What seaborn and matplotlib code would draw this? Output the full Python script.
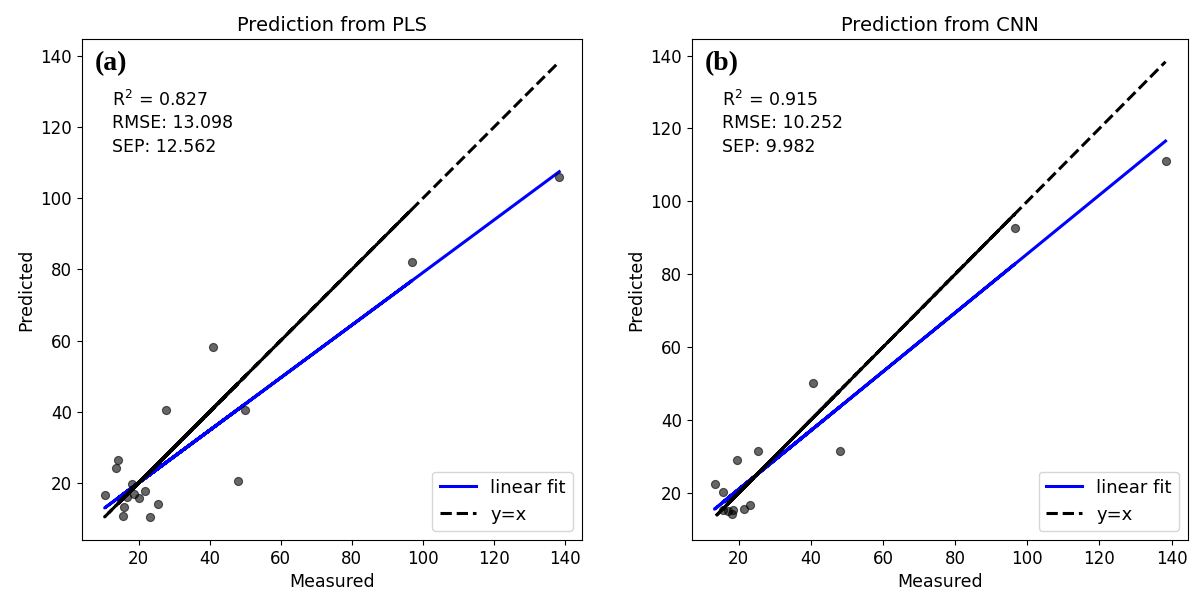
import matplotlib
matplotlib.use("Agg")
import matplotlib.pyplot as plt
import numpy as np
import seaborn as sns

# PLS panel, points kept in their original (unsorted) order
pls_measured = [15.6, 27.8, 18.7, 50.0, 14.2, 40.8, 20.1, 96.9, 13.7, 48.0,
                16.8, 23.2, 10.4, 21.8, 18.2, 25.5, 15.9, 138.4]
pls_predicted = [10.7, 40.6, 16.7, 40.6, 26.4, 58.2, 15.8, 82.0, 24.2, 20.6,
                 16.1, 10.3, 16.5, 17.7, 19.7, 14.0, 13.2, 106.0]

# CNN panel
cnn_measured = [18.2, 40.6, 15.7, 25.3, 13.3, 96.5, 21.6, 48.1, 15.6, 23.2,
                19.6, 17.0, 18.5, 138.3]
cnn_predicted = [14.1, 50.2, 15.2, 31.4, 22.5, 92.6, 15.5, 31.4, 20.3, 16.6,
                 28.9, 15.0, 15.4, 111.1]

titles = ["Prediction from PLS", "Prediction from CNN"]
panel_tags = ["(a)", "(b)"]
stats_text = [
    ["R$^2$ = 0.827", "RMSE: 13.098", "SEP: 12.562"],
    ["R$^2$ = 0.915", "RMSE: 10.252", "SEP: 9.982"],
]


def draw_panel(ax, measured, predicted, title, tag, stats):
    x = np.array(measured)
    y = np.array(predicted)
    slope, intercept = np.polyfit(x, y, 1)

    sns.lineplot(x=x, y=slope * x + intercept, sort=False, estimator=None,
                 color="blue", linewidth=2.2, label="linear fit", ax=ax)
    sns.lineplot(x=x, y=x, sort=False, estimator=None, color="black",
                 linewidth=2.2, linestyle="--", label="y=x", ax=ax)
    sns.scatterplot(x=x, y=y, color="black", alpha=0.6, s=34,
                    edgecolor="black", linewidth=0.8, ax=ax, zorder=3)

    ax.set_title(title, fontsize=14)
    ax.set_xlabel("Measured", fontsize=12.5)
    ax.set_ylabel("Predicted", fontsize=12.5)
    ax.tick_params(labelsize=12)
    ax.set_xticks([20, 40, 60, 80, 100, 120, 140])
    ax.set_yticks([20, 40, 60, 80, 100, 120, 140])

    ax.text(0.026, 0.95, tag, transform=ax.transAxes, fontsize=20,
            fontweight="bold", family="Liberation Serif", va="center", ha="left")
    for i, line in enumerate(stats):
        ax.text(0.06, 0.878 - i * 0.0465, line, transform=ax.transAxes,
                fontsize=12.5, va="center", ha="left")

    ax.legend(loc="lower right", fontsize=13)


fig = plt.figure(figsize=(11.98, 5.95), dpi=100)
ax_a = fig.add_axes([0.0684, 0.0924, 0.4174, 0.8421])
ax_b = fig.add_axes([0.5776, 0.0924, 0.4141, 0.8421])

draw_panel(ax_a, pls_measured, pls_predicted, titles[0], panel_tags[0], stats_text[0])
draw_panel(ax_b, cnn_measured, cnn_predicted, titles[1], panel_tags[1], stats_text[1])

fig.savefig("out.png", dpi=100)
plt.close(fig)
